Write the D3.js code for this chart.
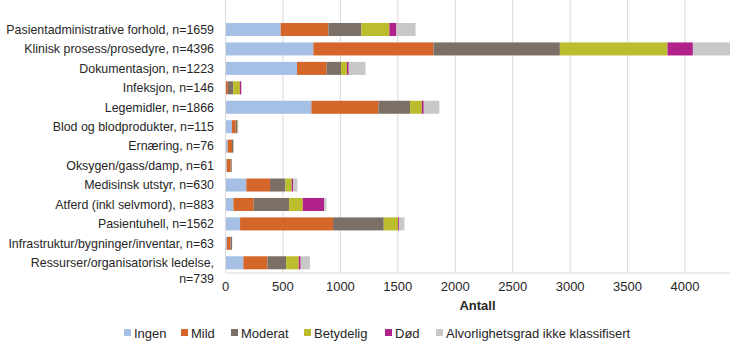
<!DOCTYPE html>
<html>
<head>
<meta charset="utf-8">
<script src="https://cdn.jsdelivr.net/npm/d3@7"></script>
<style>
    body { margin: 0; background: #ffffff; }
    svg text { font-family: "Liberation Sans", Arial, sans-serif; fill: #262626; }
</style>
</head>
<body>
<div class="Chart"></div>
<script>

const categories = [
    "Pasientadministrative forhold, n=1659",
    "Klinisk prosess/prosedyre, n=4396",
    "Dokumentasjon, n=1223",
    "Infeksjon, n=146",
    "Legemidler, n=1866",
    "Blod og blodprodukter, n=115",
    "Ernæring, n=76",
    "Oksygen/gass/damp, n=61",
    "Medisinsk utstyr, n=630",
    "Atferd (inkl selvmord), n=883",
    "Pasientuhell, n=1562",
    "Infrastruktur/bygninger/inventar, n=63",
    "Ressurser/organisatorisk ledelse, n=739"
];

// labels that Excel broke onto two lines
const wrapped = ["Ressurser/organisatorisk ledelse, n=739"];

const series_names = ["Ingen", "Mild", "Moderat", "Betydelig", "Død", "Alvorlighetsgrad ikke klassifisert"];

// one array per severity, same order as categories
const ingen = [485, 769, 627, 5, 752, 61, 23, 15, 186, 73, 131, 17, 160];
const mild = [415, 1045, 258, 20, 583, 32, 38, 35, 206, 177, 810, 32, 209];
const moderat = [287, 1101, 125, 46, 276, 12, 12, 9, 134, 308, 441, 12, 163];
const betydelig = [244, 937, 52, 58, 102, 6, 1, 1, 55, 119, 125, 1, 110];
const dod = [61, 221, 15, 12, 17, 1, 0, 0, 12, 186, 9, 0, 17];
const ikke_klassifisert = [167, 323, 146, 5, 136, 3, 2, 1, 37, 20, 46, 1, 80];

const x_ticks = [0, 500, 1000, 1500, 2000, 2500, 3000, 3500, 4000];
const x_max = 4396;

const colors = ["#a5bfe5", "#d4662a", "#7c6f66", "#bcbd2c", "#b0228a", "#c8c8c8"];

const width = 730;
const height = 341;
const margin = {left: 225, right: 0, top: 0, bottom: 68.5};
const band_step = 19.44;

const rows = categories.map((name, i) => ({
    name: name,
    values: [ingen[i], mild[i], moderat[i], betydelig[i], dod[i], ikke_klassifisert[i]]
}));

const stack = d3.stack()
    .keys(d3.range(series_names.length))
    .value((d, key) => d.values[key]);
const layers = stack(rows);

const svg = d3.select(".Chart")
    .append("svg")
    .attr("width", width)
    .attr("height", height);

const plot_bottom = height - margin.bottom;

const x = d3.scaleLinear()
    .domain([0, x_max])
    .range([margin.left, width - margin.right]);

const y = d3.scaleBand()
    .domain(categories)
    .range([plot_bottom - band_step * categories.length, plot_bottom])
    .paddingInner(0.33)
    .paddingOuter(0.165);

// vertical gridlines
svg.append("g")
    .selectAll("line")
    .data(x_ticks)
    .join("line")
    .attr("x1", d => x(d) + 0.5)
    .attr("x2", d => x(d) + 0.5)
    .attr("y1", margin.top)
    .attr("y2", plot_bottom)
    .attr("stroke", "#d9d9d9")
    .attr("stroke-width", 1);

// bars
svg.append("g")
    .selectAll("g")
    .data(layers)
    .join("g")
    .attr("fill", (d, i) => colors[i])
    .selectAll("rect")
    .data(d => d)
    .join("rect")
    .attr("x", d => x(d[0]))
    .attr("y", d => y(d.data.name))
    .attr("width", d => x(d[1]) - x(d[0]))
    .attr("height", y.bandwidth());

// x axis
const x_axis = svg.append("g")
    .attr("transform", `translate(0, ${plot_bottom})`)
    .call(d3.axisBottom(x).tickValues(x_ticks).tickSize(0).tickPadding(9).tickFormat(d3.format("d")));
x_axis.select(".domain").attr("stroke", "#d9d9d9");
x_axis.selectAll("text").style("font-size", "13px").attr("fill", "#262626");

// category axis line
svg.append("line")
    .attr("x1", margin.left + 0.5)
    .attr("x2", margin.left + 0.5)
    .attr("y1", y.range()[0])
    .attr("y2", plot_bottom)
    .attr("stroke", "#d9d9d9");

// category labels
const label_x = margin.left - 11;
const label_g = svg.append("g");
categories.forEach(name => {
    const text = label_g.append("text")
        .attr("x", label_x)
        .attr("y", y(name) + y.bandwidth() / 2)
        .attr("text-anchor", "end")
        .attr("dy", "0.35em")
        .style("font-size", "12.4px");
    if (wrapped.includes(name)) {
        const split = name.lastIndexOf(" ");
        text.append("tspan").attr("x", label_x).text(name.slice(0, split));
        text.append("tspan").attr("x", label_x).attr("dy", "1.3em").text(name.slice(split + 1));
    } else {
        text.text(name);
    }
});

// axis title
svg.append("text")
    .attr("x", (x(0) + x(x_max)) / 2)
    .attr("y", 310)
    .attr("text-anchor", "middle")
    .style("font-size", "13px")
    .style("font-weight", "bold")
    .text("Antall");

// legend
const legend_x = [124, 181, 231, 304, 385, 436];
const legend = svg.append("g")
    .selectAll("g")
    .data(series_names)
    .join("g")
    .attr("transform", (d, i) => `translate(${legend_x[i]}, 333)`);
legend.append("rect")
    .attr("x", 0)
    .attr("y", -4)
    .attr("width", 7)
    .attr("height", 7)
    .attr("fill", (d, i) => colors[i]);
legend.append("text")
    .attr("x", 10)
    .attr("dy", "0.35em")
    .style("font-size", "13px")
    .text(d => d);

</script>
</body>
</html>
